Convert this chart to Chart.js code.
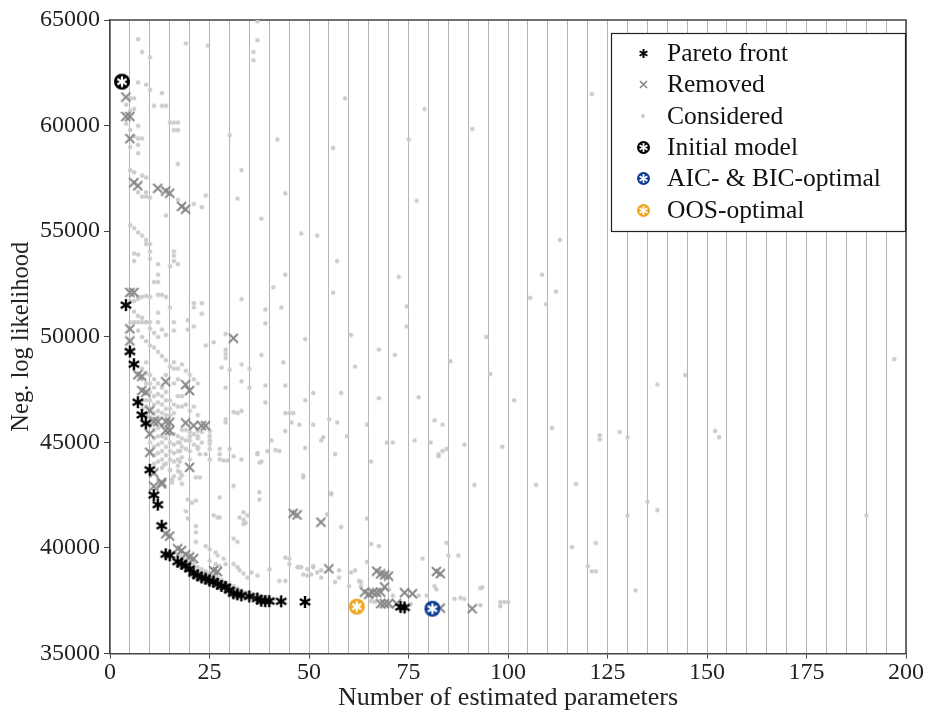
<!DOCTYPE html>
<html>
<head>
<meta charset="utf-8">
<script src="https://cdn.jsdelivr.net/npm/chart.js@4.4.1/dist/chart.umd.min.js"></script>
<style>
html, body { margin: 0; padding: 0; background: #fff; }
</style>
</head>
<body>
<canvas id="paretoChart" width="927" height="717"></canvas>
<script>
// Daten
const xTicks = [0, 25, 50, 75, 100, 125, 150, 175, 200];
const yTicks = [35000, 40000, 45000, 50000, 55000, 60000, 65000];

const seriesLabels = ['Pareto front', 'Removed', 'Considered', 'Initial model', 'AIC- & BIC-optimal', 'OOS-optimal'];

const paretoPts = [
    [4, 51500], [5, 49300], [6, 48700], [7, 46900], [8, 46300], [9, 45900], [10, 43700], [11, 42500],
    [12, 42050], [13, 41050], [14, 39700], [15, 39650], [17, 39350], [18, 39250], [19, 39150], [20, 39000],
    [21, 38800], [22, 38700], [23, 38600], [24, 38550], [25, 38450], [26, 38400], [27, 38300], [28, 38200],
    [29, 38150], [30, 38000], [31, 37850], [32, 37800], [33, 37750], [35, 37700], [37, 37600], [38, 37500],
    [39, 37480], [40, 37480], [43, 37470], [49, 37440], [73, 37200], [74, 37180]
];

const removedPts = [
    [4, 61350], [4, 60430], [5, 60430], [5, 59380], [6, 57300], [7, 57150], [12, 57030], [14, 56900],
    [15, 56800], [18, 56170], [19, 56040], [5, 52100], [6, 52100], [5, 50370], [5, 49800], [7, 48200],
    [8, 48130], [8, 47450], [9, 47370], [10, 46500], [11, 45980], [12, 45980], [14, 45980], [15, 45950],
    [14, 45560], [15, 45560], [10, 45400], [14, 47870], [19, 47730], [20, 47450], [19, 45920], [21, 45790],
    [23, 45790], [24, 45790], [31, 49930], [10, 44530], [20, 43820], [11, 43550], [13, 43110], [13, 43030],
    [11, 42920], [14, 40670], [15, 40560], [17, 39960], [18, 39880], [19, 39680], [20, 39570], [21, 39490],
    [26, 38930], [27, 38880], [46, 41640], [47, 41560], [53, 41220], [55, 39010], [67, 38900], [68, 38770],
    [69, 38720], [70, 38670], [69, 38150], [64, 37910], [65, 37800], [66, 37880], [67, 37880], [68, 37910],
    [68, 37360], [69, 37360], [70, 37360], [72, 37360], [74, 37880], [76, 37830], [82, 38880], [83, 38780],
    [83, 37150], [91, 37120]
];

const consideredPts = [
    // oben links
    [7, 64100], [8, 63500], [10, 63250], [19, 63900], [24.5, 63800], [37, 64950], [37, 64050], [36, 63500],
    [36, 63100], [7, 62050], [9, 61950], [10, 61700], [13, 61550], [11, 60950], [13, 60950], [14, 60950],
    [4, 61000], [5, 61300], [6, 61300], [6, 60800], [4, 60100], [5, 60700], [7, 60000], [5, 59800],
    [6, 59500], [7, 59400], [8, 59400], [5, 59000], [7, 59100], [7, 58700], [15, 60150], [16, 60150],
    [17, 60150], [16, 59800], [17, 59800], [30, 59550], [42, 59350], [56, 58950], [59, 61300], [33, 57900],
    [17, 58200], [5, 57900], [6, 57800], [8, 57650], [9, 57550], [7, 56850], [8, 56650], [9, 56650],
    [10, 56600], [9, 56850], [17, 56500], [21, 56300], [23, 56150], [24, 56700], [32, 56550], [44, 56800],
    [14, 55750], [38, 55600], [48, 54900], [52, 54800], [5, 55300], [6, 55150], [7, 54950], [8, 54800],
    [9, 54600], [9, 54400], [10, 54400], [75, 59350], [79, 60800], [77, 56450], [91, 59850], [121, 61500],
    [113, 54600],
    // rechts
    [112, 52150], [197, 48950], [144.5, 48200], [137.5, 47750], [111, 45700], [123, 45350], [123, 45150],
    [128, 45500], [130, 45250], [152, 45550], [153, 45250], [117, 43050], [135, 42200], [137.5, 41800],
    [130, 41550], [190, 41550], [116, 40050], [122, 40250], [120, 39150], [121, 38900], [122, 38900], [132, 38000],
    // Mitte links
    [6, 53950], [7, 53900], [6, 53600], [10, 54050], [10, 53700], [16, 54050], [16, 53850], [16, 53600],
    [17, 53450], [15, 53350], [12, 53450], [12, 52950], [12, 52600], [11, 52600], [12, 52000], [13, 52000],
    [14, 51900], [15, 51400], [7, 51900], [8, 51900], [9, 51950], [10, 51900], [5, 50700], [6, 50700],
    [7, 50700], [8, 50700], [9, 50700], [10, 50700], [12, 51150], [12, 50700], [13, 50350], [14, 50100],
    [16, 50700], [16, 50300], [23, 51600], [23, 51100], [21, 51600], [21, 51400], [19.5, 50800], [19.5, 50350],
    [21, 50500], [24, 49600], [26, 49750], [29, 50150], [29, 49400], [29, 49200], [29, 49000], [28, 48550],
    [30, 48450], [33, 51800], [39, 51300], [39, 50650], [44, 52950], [41, 52350], [43, 51400], [57, 53600],
    [56, 52100], [49, 49900], [43.5, 48800], [33, 48700], [33, 47900], [35, 48500], [38, 49150], [29, 47600],
    [39, 47700], [39, 46900], [44, 47700], [51, 47350], [58, 47350], [49, 47000], [35, 47600], [31, 46450],
    [32, 46400], [33, 46500], [44, 46400], [45, 46400], [46, 46400], [44, 45550], [45.5, 45950], [47.5, 45850],
    [51, 45850], [53, 45100], [53.5, 45250], [55, 46100], [57, 45950], [49, 44750], [56.5, 44450], [48.5, 43350],
    [40.5, 45100], [42.5, 44600], [37, 44500], [38, 44100], [39.5, 44600], [33, 44200], [31, 42950], [41.5, 44650],
    [29, 46100], [29, 45950], [25, 45550], [25, 45300], [25, 45100], [25, 44950], [25, 44700], [25, 44200],
    [22, 45550], [22, 45300], [22, 44700], [20, 45300], [20, 45100], [17.5, 45000], [17.5, 44600], [17.5, 44100],
    [17.5, 43600], [17.5, 43300], [27.5, 44700], [27.5, 44450], [27.5, 44200], [30, 44700], [22.5, 43350],
    [17, 43900], [17, 43650], [18, 43450], [18, 43050], [15.5, 43250], [15.5, 43100],
    // dichter Block
    [8, 48500], [8, 48000], [8, 47500], [8, 47000], [8, 46600],
    [9, 48800], [9, 48300], [9, 47800], [9, 47400], [9, 47000], [9, 46700], [9, 46300],
    [10, 48200], [10, 47800], [10, 47400], [10, 47000], [10, 46600], [10, 46200], [10, 45800], [10, 45000], [10, 44600],
    [11, 48000], [11, 47600], [11, 47200], [11, 46800], [11, 46400], [11, 46100], [11, 45600], [11, 45200], [11, 44800], [11, 44400], [11, 44000],
    [12, 47800], [12, 47300], [12, 46900], [12, 46500], [12, 46200], [12, 45700], [12, 45300], [12, 44900], [12, 44500], [12, 44100],
    [13, 47600], [13, 47200], [13, 46800], [13, 46400], [13, 45800], [13, 45300], [13, 45000], [13, 44600], [13, 44200], [13, 43800],
    [14, 48200], [14, 47400], [14, 47000], [14, 46600], [14, 46300], [14, 45200], [14, 44800], [14, 44400], [14, 44000],
    [15, 47000], [15, 46600], [15, 46300], [15, 45400], [15, 45000], [15, 44600], [15, 44200], [15, 43700],
    [16, 48500], [16, 47800], [16, 46800], [16, 46400], [16, 45400], [16, 44900], [16, 44500], [16, 44100],
    [17, 48000], [17, 47200], [17, 46700], [17, 45300], [17, 45000], [17, 44600], [17, 44200],
    [18, 47200], [18, 46700], [18, 45600], [18, 45200], [18, 44800], [18, 44300],
    [19, 46800], [19, 45600], [19, 45100], [19, 44700], [20, 46500], [20, 45500], [20, 44600], [20, 44200],
    [21, 46700], [21, 45400], [21, 44900], [22, 46300], [22, 45600], [22, 45200], [22, 44800], [23, 45500], [23, 45000],
    [5, 51700], [6, 51700], [7, 51800], [6, 51200], [7, 51000], [8, 50900], [9, 50700], [10, 50400], [11, 50200],
    [12, 50000], [7, 50300], [8, 50000], [9, 49800], [10, 49600], [11, 49500], [12, 49300], [13, 49100], [14, 48900],
    [15, 48600], [16, 48800], [17, 48500], [18, 48700], [19, 48400], [20, 48200], [21, 48000], [22, 47800],
    // unten
    [13.5, 43950], [15, 43700], [16, 43400], [21.5, 43350], [22.5, 44450], [24, 44450], [28.5, 44150], [29.5, 44150],
    [31, 44350], [37, 44450], [37.5, 44050], [19.5, 42300], [20.5, 42150], [21.5, 42250], [19, 41750], [19.5, 41400],
    [21.5, 41050], [21.5, 40750], [21.5, 40300], [26, 41550], [27, 41450], [27.5, 41450], [27.5, 42400], [32.5, 41450],
    [33.5, 41350], [34.5, 41550], [34, 41200], [33.5, 41150], [37.5, 42650], [37.5, 42300], [33.5, 41700], [31, 40450],
    [32, 40300], [24, 40100], [25, 39950], [26.5, 39800], [27, 39650], [28.5, 39500], [25, 39400], [26.5, 39250],
    [27.5, 39150], [29, 39250], [31, 39250], [32, 39100], [32.5, 38950], [33.5, 38800], [34.5, 38600], [35.5, 38850],
    [37, 38700], [40, 39000], [42.5, 38450], [44, 38450], [44, 39550], [45, 39500], [45, 39250], [47, 39100],
    [48, 39100], [49.5, 39000], [51, 39100], [53, 38600], [49.5, 38700], [58, 41000], [55.5, 42550], [48.5, 43450],
    [16, 39800], [17, 39700], [18, 39600], [19, 39450], [20, 39350], [21, 39250], [22, 39100], [23, 39000],
    [24, 38900], [25, 38800], [26, 38700], [27, 38600], [28, 38500], [29, 38400], [30, 38300], [31, 38200],
    [32, 38100], [33, 38000], [34, 37900], [35, 37900], [36, 37800], [37, 37800], [38, 37700], [39, 37700],
    [40, 37600], [41, 37600],
    [65.5, 44100], [55.5, 42600], [54.5, 41600], [64.5, 41400], [65.5, 40200], [67.5, 40100], [64.5, 39350],
    [78.5, 39500], [85, 39650], [87.5, 39650], [84.5, 40250], [91.5, 43000], [107, 43000], [82.5, 44450],
    [51, 39150], [48.5, 38750], [50.5, 38750], [52, 38850], [53, 38950], [47.5, 39100], [57.5, 38950],
    [57.5, 38600], [56.5, 38400], [60.5, 38850], [61.5, 38950], [62.5, 38450], [63, 38400], [60, 38200], [63, 38200],
    [65.5, 37500], [66.5, 37450], [70, 38050], [71, 37750], [75.5, 37350], [77.5, 37750], [79.5, 37750],
    [81.5, 38200], [82, 38050], [86.5, 37600], [88, 37650], [89, 37600], [93, 38100], [93.5, 38150], [93, 37300],
    [98, 37450], [98, 37250], [99, 37450], [100, 37450],
    // Mitte
    [72.5, 52850], [74.5, 51450], [74.5, 50500], [60.5, 50100], [67.5, 49400], [71.5, 49150], [61.5, 48600],
    [85.5, 48850], [94.5, 50000], [95.5, 48250], [105.5, 51850], [108.5, 52950], [109.5, 51550], [67.5, 47100],
    [77.5, 47150], [101.5, 47000], [64.5, 45850], [59.5, 45300], [69.5, 45000], [71, 45000], [76.5, 45100],
    [80.5, 45000], [81.5, 46050], [83.5, 45850], [82.5, 44350], [83.5, 44600], [84.5, 44700], [89, 44900], [98.5, 44800]
];

const initialPt = [[3, 62080]];
const aicBicPt = [[81, 37120]];
const oosPt = [[62, 37220]];

// Marker als kleine Canvas-Bilder
function makeAsterisk(size, color, lw) {
    const c = document.createElement('canvas');
    c.width = size; c.height = size;
    const g = c.getContext('2d');
    const r = size / 2 - 1;
    g.strokeStyle = color; g.lineWidth = lw; g.lineCap = 'butt';
    [90, 30, 150].forEach(a => {
        const t = a * Math.PI / 180;
        g.beginPath();
        g.moveTo(size / 2 - r * Math.cos(t), size / 2 - r * Math.sin(t));
        g.lineTo(size / 2 + r * Math.cos(t), size / 2 + r * Math.sin(t));
        g.stroke();
    });
    return c;
}

function makeCross(size, color, lw) {
    const c = document.createElement('canvas');
    c.width = size; c.height = size;
    const g = c.getContext('2d');
    g.strokeStyle = color; g.lineWidth = lw;
    g.beginPath();
    g.moveTo(1, 1); g.lineTo(size - 1, size - 1);
    g.moveTo(size - 1, 1); g.lineTo(1, size - 1);
    g.stroke();
    return c;
}

function makeDot(r, color) {
    const c = document.createElement('canvas');
    c.width = r * 2 + 2; c.height = r * 2 + 2;
    const g = c.getContext('2d');
    g.fillStyle = color;
    g.beginPath(); g.arc(r + 1, r + 1, r, 0, Math.PI * 2); g.fill();
    return c;
}

function makeBadge(size, fill) {
    const c = document.createElement('canvas');
    c.width = size; c.height = size;
    const g = c.getContext('2d');
    const m = size / 2;
    g.fillStyle = fill;
    g.beginPath(); g.arc(m, m, m - 1, 0, Math.PI * 2); g.fill();
    g.strokeStyle = '#fff'; g.lineWidth = size > 15 ? 2.2 : 1.8;
    const r = size * 0.3;
    [90, 30, 150].forEach(a => {
        const t = a * Math.PI / 180;
        g.beginPath();
        g.moveTo(m - r * Math.cos(t), m - r * Math.sin(t));
        g.lineTo(m + r * Math.cos(t), m + r * Math.sin(t));
        g.stroke();
    });
    return c;
}

const toXY = pts => pts.map(p => ({ x: p[0], y: p[1] }));

// Rahmen oben/rechts
const frame = {
    id: 'frame',
    beforeDatasetsDraw(chart) {
        const { ctx, chartArea: a } = chart;
        ctx.save();
        ctx.strokeStyle = '#444'; ctx.lineWidth = 1.5;
        ctx.beginPath();
        ctx.moveTo(a.left, a.top); ctx.lineTo(a.right, a.top); ctx.lineTo(a.right, a.bottom);
        ctx.stroke();
        ctx.restore();
    }
};

// Legende innerhalb der Zeichenfläche
const legendBox = {
    id: 'legendBox',
    afterDraw(chart) {
        const { ctx, chartArea: a } = chart;
        const w = 294, h = 198;
        const x0 = a.right - w - 1, y0 = a.top + 13;
        ctx.save();
        ctx.fillStyle = '#fff';
        ctx.fillRect(x0, y0, w, h);
        ctx.strokeStyle = '#222'; ctx.lineWidth = 1.2;
        ctx.strokeRect(x0 + 0.5, y0 + 0.5, w, h);
        ctx.font = '25.5px "Liberation Serif"';
        ctx.textBaseline = 'middle';
        ctx.fillStyle = '#111';
        chart.data.datasets.forEach((ds, i) => {
            const cy = y0 + 20 + i * 31.4;
            const img = ds.legendMarker;
            ctx.drawImage(img, Math.round(x0 + 32 - img.width / 2), Math.round(cy - img.height / 2));
            ctx.fillText(ds.label, x0 + 56, cy + 1);
        });
        ctx.restore();
    }
};

const tickFont = { family: '"Liberation Serif"', size: 24 };

new Chart(document.getElementById('paretoChart'), {
    type: 'scatter',
    data: {
        datasets: [
            { label: seriesLabels[0], data: toXY(paretoPts), pointStyle: makeAsterisk(14, '#000', 2.4), legendMarker: makeAsterisk(11, '#000', 2), pointRadius: 6, order: 1 },
            { label: seriesLabels[1], data: toXY(removedPts), pointStyle: makeCross(11, '#888', 2), legendMarker: makeCross(9, '#888', 1.6), pointRadius: 6, order: 2 },
            { label: seriesLabels[2], data: toXY(consideredPts), pointStyle: makeDot(2.2, '#cbcbcb'), legendMarker: makeDot(2, '#cbcbcb'), pointRadius: 3, order: 3 },
            { label: seriesLabels[3], data: toXY(initialPt), pointStyle: makeBadge(18, '#000'), legendMarker: makeBadge(15, '#000'), pointRadius: 9, order: 0 },
            { label: seriesLabels[4], data: toXY(aicBicPt), pointStyle: makeBadge(18, '#0a3d91'), legendMarker: makeBadge(15, '#0a3d91'), pointRadius: 9, order: 0 },
            { label: seriesLabels[5], data: toXY(oosPt), pointStyle: makeBadge(18, '#eea51d'), legendMarker: makeBadge(15, '#eea51d'), pointRadius: 9, order: 0 }
        ]
    },
    options: {
        responsive: false,
        animation: false,
        layout: { padding: { top: 20, right: 21, left: 0, bottom: 0 } },
        plugins: {
            legend: { display: false },
            tooltip: { enabled: false }
        },
        scales: {
            x: {
                type: 'linear',
                min: xTicks[0],
                max: xTicks[xTicks.length - 1],
                ticks: {
                    stepSize: 5,
                    autoSkip: false,
                    maxRotation: 0,
                    padding: 0,
                    color: '#222',
                    font: tickFont,
                    callback: v => (xTicks.includes(v) ? String(v) : '')
                },
                grid: {
                    color: 'rgba(120,120,120,0.55)',
                    lineWidth: 1,
                    tickLength: 5,
                    tickColor: c => (c.tick && xTicks.includes(c.tick.value) ? '#444' : 'rgba(0,0,0,0)')
                },
                border: { color: '#444', width: 1.5 },
                title: {
                    display: true,
                    text: 'Number of estimated parameters',
                    color: '#222',
                    font: { family: '"Liberation Serif"', size: 26 },
                    padding: { top: 0, bottom: 3 }
                },
                afterFit: s => { s.height = 63.5; }
            },
            y: {
                type: 'linear',
                min: yTicks[0],
                max: yTicks[yTicks.length - 1],
                afterBuildTicks: s => { s.ticks = yTicks.map(v => ({ value: v })); },
                ticks: {
                    color: '#222',
                    font: tickFont,
                    padding: 4,
                    callback: v => String(v)
                },
                grid: { drawOnChartArea: false, tickLength: 6, tickColor: '#444' },
                border: { color: '#444', width: 1.5 },
                title: {
                    display: true,
                    text: 'Neg. log likelihood',
                    color: '#222',
                    font: { family: '"Liberation Serif"', size: 24.5 },
                    padding: { top: 7, bottom: 0 }
                },
                afterFit: s => { s.width = 110; }
            }
        }
    },
    plugins: [frame, legendBox]
});
</script>
</body>
</html>
